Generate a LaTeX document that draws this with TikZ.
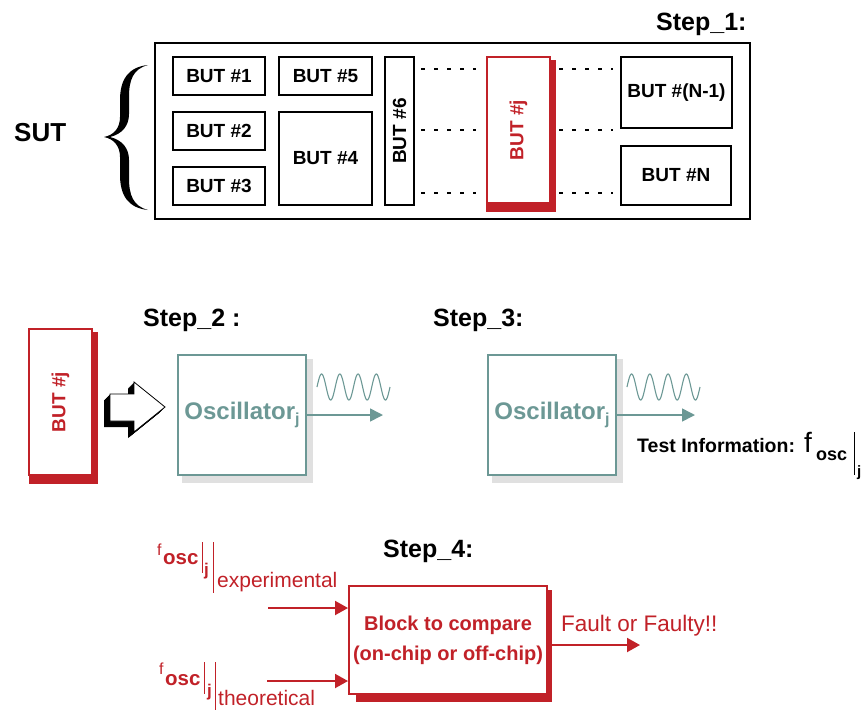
\documentclass[tikz,border=0pt]{standalone}
\usepackage{fontspec}
\setmainfont{Liberation Sans}
\usetikzlibrary{arrows.meta,calc,backgrounds}
\definecolor{bred}{RGB}{193,33,40}
\definecolor{oteal}{RGB}{108,152,149}
\definecolor{oshade}{RGB}{224,224,224}
\newcommand\myfs[1]{\fontsize{#1}{#1}\selectfont}
\begin{document}
\begin{tikzpicture}[x=1pt,y=-1pt,
  butbox/.style={draw=black, line width=2.2pt, fill=white, inner sep=0pt, font=\myfs{19}\bfseries},
  redbox/.style={draw=bred, line width=1.8pt, fill=white, inner sep=0pt},
  redtext/.style={text=bred, font=\myfs{19}\bfseries, inner sep=0pt},
  oscbox/.style={draw=oteal, line width=1.6pt, fill=white, inner sep=0pt, minimum width=128pt, minimum height=120pt, text=oteal, font=\myfs{24}\bfseries},
  steplabel/.style={font=\myfs{25}\bfseries, inner sep=0pt, anchor=base west},
  dotline/.style={line width=1.7pt, dash pattern=on 4pt off 9pt},
  oarrow/.style={draw=oteal, line width=1.6pt, -{Triangle[length=13pt,width=13pt]}},
  rarrow/.style={draw=bred, line width=2pt, -{Triangle[length=13pt,width=14pt]}},
  wave/.style={draw=oteal, line width=1.1pt},
  plain/.style={inner sep=0pt, anchor=base west},
]
\useasboundingbox (0,0) rectangle (868,710);

% ---------- Step 1 ----------
\node[steplabel] (s1) at (656,30) {Step\_1:};
\node[draw=black, line width=2.2pt, minimum width=595pt, minimum height=176pt, inner sep=0pt] (sut) at (452.5,131) {};
\node[butbox, minimum width=92pt, minimum height=38pt] (b1) at (219,76) {BUT \#1};
\node[butbox, minimum width=92pt, minimum height=38pt] (b2) at (219,131) {BUT \#2};
\node[butbox, minimum width=92pt, minimum height=38pt] (b3) at (219,186) {BUT \#3};
\node[butbox, minimum width=93pt, minimum height=38pt] (b5) at (325.5,76) {BUT \#5};
\node[butbox, minimum width=93pt, minimum height=93pt] (b4) at (325.5,158.5) {BUT \#4};
\node[butbox, minimum width=29pt, minimum height=148pt] (b6) at (399.5,131) {};
\node[rotate=90, font=\myfs{19}\bfseries, inner sep=0pt] (b6t) at (b6) {BUT \#6};
\node[redbox, minimum width=63pt, minimum height=146pt] (bj) at (518.5,130) {};
\node[redtext, rotate=90] (bjt) at (bj) {BUT \#j};
\node[butbox, minimum width=111pt, minimum height=71pt] (bn1) at (676.5,92.5) {BUT \#(N-1)};
\node[butbox, minimum width=110pt, minimum height=59pt] (bn) at (676,175.5) {BUT \#N};
\begin{scope}[on background layer]
  \fill[bred] ($(bj.north west)+(0,4)$) rectangle ($(bj.south east)+(5,8)$);
\end{scope}
\coordinate (l1a) at (421,69);  \coordinate (l1b) at (476,69);
\coordinate (l2a) at (421,130); \coordinate (l2b) at (476,130);
\coordinate (l3a) at (421,193); \coordinate (l3b) at (476,193);
\coordinate (r1a) at (559,69);  \coordinate (r1b) at (613,69);
\coordinate (r2a) at (559,130); \coordinate (r2b) at (613,130);
\coordinate (r3a) at (559,193); \coordinate (r3b) at (613,193);
\draw[dotline] (l1a) -- (l1b);
\draw[dotline] (l2a) -- (l2b);
\draw[dotline] (l3a) -- (l3b);
\draw[dotline] (r1a) -- (r1b);
\draw[dotline] (r2a) -- (r2b);
\draw[dotline] (r3a) -- (r3b);
% brace
\fill[black] (148,65) .. controls (128,67) and (120,80) .. (120,100) -- (120,117)
  .. controls (120,128) and (114,135) .. (104,137)
  .. controls (114,139) and (120,146) .. (120,157) -- (120,175)
  .. controls (120,195) and (128,208) .. (148,210)
  .. controls (133,206) and (129,195) .. (129,178) -- (129,160)
  .. controls (129,148) and (122,140) .. (110,137)
  .. controls (122,134) and (129,126) .. (129,114) -- (129,97)
  .. controls (129,80) and (133,69) .. (148,65) -- cycle;
\node[plain, font=\myfs{26}\bfseries] (sutl) at (14,141) {SUT};

% ---------- Step 2 ----------
\node[steplabel] (s2) at (143,326) {Step\_2 :};
\node[redbox, minimum width=63pt, minimum height=146pt] (bj2) at (60.5,402) {};
\node[redtext, rotate=90] (bj2t) at (bj2) {BUT \#j};
\begin{scope}[on background layer]
  \fill[bred] ($(bj2.north west)+(1,4)$) rectangle ($(bj2.south east)+(5,8)$);
\end{scope}
\foreach \s in {0.5,1,...,6} {
  \fill[black, shift={(-\s,\s)}] (110,394) -- (134,394) -- (134,382) -- (165,407) -- (134,432) -- (134,421) -- (110,421) -- cycle;
}
\filldraw[fill=white, draw=black, line width=0.8pt] (110,394) -- (134,394) -- (134,382) -- (165,407) -- (134,432) -- (134,421) -- (110,421) -- cycle;

\node[oscbox] (osc1) at (242,415) {Oscillator\raisebox{-5pt}{\myfs{16}j}};
\begin{scope}[on background layer]
  \fill[oshade] ($(osc1.north west)+(5,5)$) rectangle ($(osc1.south east)+(6,7)$);
\end{scope}
\coordinate (o1e) at (383,415);
\draw[oarrow] (osc1.east) -- (o1e);
\draw[wave] plot[domain=0:73, samples=200] ({317+\x},{387-13*sin(\x*19.726)});

% ---------- Step 3 ----------
\node[steplabel] (s3) at (433,326) {Step\_3:};
\node[oscbox] (osc2) at (552,415) {Oscillator\raisebox{-5pt}{\myfs{16}j}};
\begin{scope}[on background layer]
  \fill[oshade] ($(osc2.north west)+(5,5)$) rectangle ($(osc2.south east)+(6,7)$);
\end{scope}
\coordinate (o2e) at (695,415);
\draw[oarrow] (osc2.east) -- (o2e);
\draw[wave] plot[domain=0:73, samples=200] ({627+\x},{387-13*sin(\x*19.726)});
\node[plain, font=\myfs{19.5}\bfseries] (ti) at (637,452) {Test Information:};
\node[plain, font=\myfs{28}] (f3) at (804,452) {f};
\node[plain, font=\myfs{18}\bfseries] (osc3) at (816,460) {osc};
\draw[line width=1pt] (854,432) -- (854,475);
\node[plain, font=\myfs{15}\bfseries] (j3) at (857,476) {j};

% ---------- Step 4 ----------
\node[steplabel] (s4) at (383,557) {Step\_4:};
\node[draw=bred, line width=2pt, fill=white, minimum width=198pt, minimum height=108pt, inner sep=0pt, text=bred, font=\fontsize{20}{30}\selectfont\bfseries, align=center] (blk) at (448,640) {Block to compare\\(on-chip or off-chip)};
\begin{scope}[on background layer]
  \fill[bred] ($(blk.north west)+(8,5)$) rectangle ($(blk.south east)+(4,7)$);
\end{scope}
\coordinate (in1) at (268,608);
\coordinate (in2) at (267,681);
\coordinate (out) at (640,645);
\draw[rarrow] (in1) -- (in1 -| blk.west);
\draw[rarrow] (in2) -- (in2 -| blk.west);
\draw[rarrow] (out -| blk.east) -- (out);
\node[plain, font=\myfs{22.5}, text=bred] (ft) at (561,631) {Fault or Faulty!!};

% experimental label
\node[plain, font=\myfs{16}, text=bred] (fe) at (157,555) {f};
\node[plain, font=\myfs{20.5}\bfseries, text=bred] (osce) at (163,564) {osc};
\draw[bred, line width=1pt] (202,542) -- (202,573);
\node[plain, font=\myfs{17}\bfseries, text=bred] (je) at (204,575) {j};
\draw[bred, line width=1pt] (213,542) -- (213,593);
\node[plain, font=\myfs{21}, text=bred] (exp) at (217,587) {experimental};

% theoretical label
\node[plain, font=\myfs{16}, text=bred] (ft2) at (159,674) {f};
\node[plain, font=\myfs{20.5}\bfseries, text=bred] (osct) at (165,685) {osc};
\draw[bred, line width=1pt] (204,662) -- (204,694);
\node[plain, font=\myfs{17}\bfseries, text=bred] (jt) at (207,696) {j};
\draw[bred, line width=1pt] (215,662) -- (215,710);
\node[plain, font=\myfs{21}, text=bred] (theo) at (218,705) {theoretical};
\end{tikzpicture}
\end{document}
